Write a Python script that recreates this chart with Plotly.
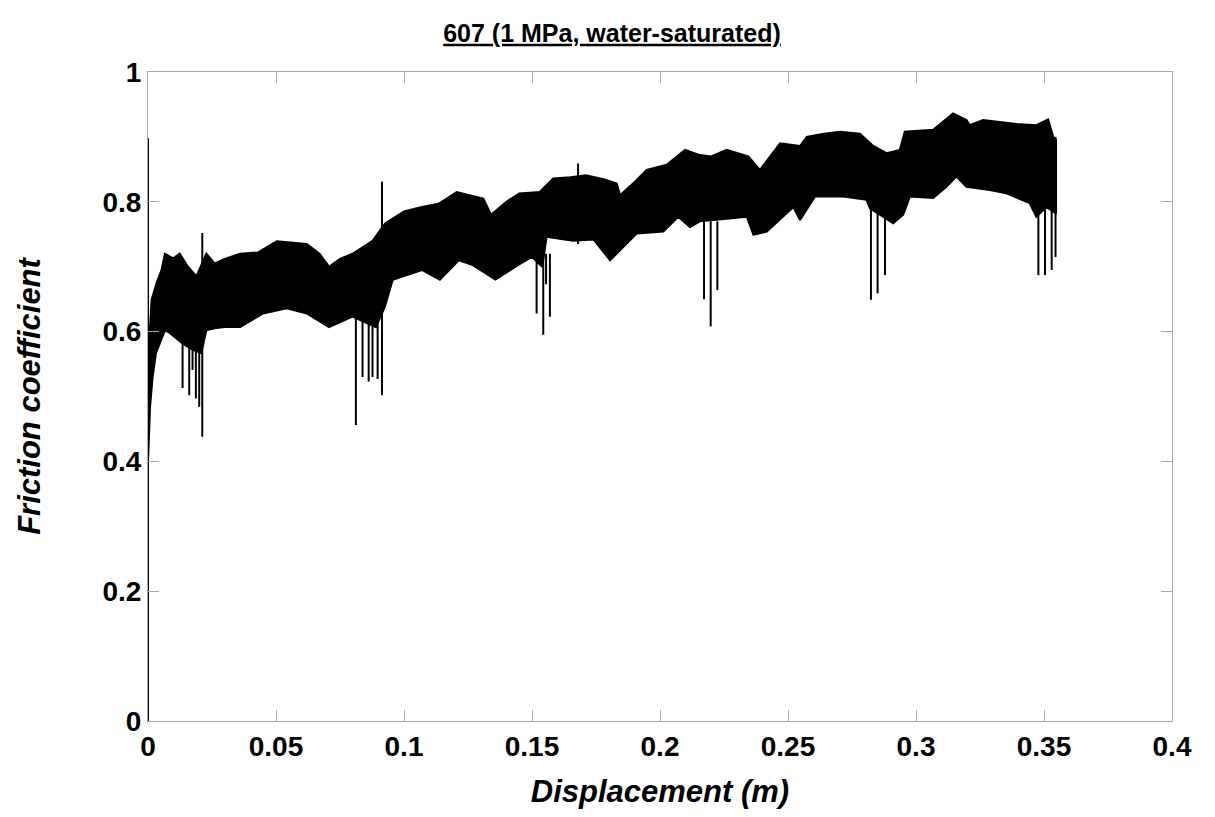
import plotly.graph_objects as go

# upper edge of the friction band (displacement m, friction coefficient)
upper_x = [0.0, 0.0008, 0.0014, 0.0034, 0.0053, 0.0066, 0.0098, 0.0124, 0.0156, 0.0189,
           0.0228, 0.026, 0.030, 0.036, 0.043, 0.0503, 0.056, 0.062, 0.067, 0.0707,
           0.075, 0.0799, 0.0877, 0.0927, 0.100, 0.107, 0.1135, 0.1206, 0.131, 0.134,
           0.140, 0.145, 0.153, 0.1583, 0.165, 0.171, 0.178, 0.1831, 0.1844, 0.190,
           0.1948, 0.2026, 0.2098, 0.2156, 0.220, 0.226, 0.2345, 0.239, 0.2469, 0.2547,
           0.2573, 0.264, 0.2703, 0.2781, 0.2833, 0.2885, 0.2937, 0.2956, 0.3067, 0.3145,
           0.3197, 0.321, 0.3262, 0.3392, 0.347, 0.3516, 0.3536, 0.3547]
upper_y = [0.55, 0.62, 0.649, 0.675, 0.695, 0.72, 0.713, 0.72, 0.70, 0.685,
           0.72, 0.705, 0.712, 0.72, 0.722, 0.739, 0.737, 0.735, 0.72, 0.70,
           0.712, 0.72, 0.74, 0.767, 0.785, 0.792, 0.797, 0.815, 0.805, 0.78,
           0.80, 0.813, 0.815, 0.836, 0.838, 0.841, 0.835, 0.828, 0.81, 0.83,
           0.849, 0.857, 0.88, 0.872, 0.87, 0.88, 0.87, 0.849, 0.89, 0.886,
           0.90, 0.905, 0.908, 0.905, 0.886, 0.875, 0.88, 0.908, 0.911, 0.936,
           0.926, 0.918, 0.926, 0.92, 0.918, 0.927, 0.90, 0.895]

# lower edge of the band
lower_x = [0.0, 0.0008, 0.0018, 0.0031, 0.0047, 0.0066, 0.0085, 0.011, 0.0137, 0.0176,
           0.0208, 0.0228, 0.026, 0.030, 0.036, 0.045, 0.0542, 0.062, 0.0707, 0.0799,
           0.089, 0.0925, 0.0956, 0.107, 0.114, 0.1214, 0.1266, 0.1357, 0.1448, 0.150,
           0.154, 0.1557, 0.166, 0.174, 0.1805, 0.1909, 0.2013, 0.2071, 0.2117, 0.2156,
           0.226, 0.2339, 0.2365, 0.2417, 0.2521, 0.2547, 0.2605, 0.2716, 0.2807, 0.282,
           0.2911, 0.295, 0.2976, 0.3067, 0.3119, 0.3158, 0.3197, 0.3288, 0.3353, 0.3444,
           0.347, 0.3509, 0.3547]
lower_y = [0.40, 0.484, 0.53, 0.567, 0.582, 0.602, 0.598, 0.59, 0.581, 0.572,
           0.567, 0.602, 0.605, 0.607, 0.607, 0.628, 0.636, 0.628, 0.607, 0.623,
           0.607, 0.638, 0.68, 0.695, 0.68, 0.71, 0.703, 0.68, 0.703, 0.715,
           0.70, 0.746, 0.74, 0.742, 0.71, 0.751, 0.754, 0.777, 0.761, 0.77,
           0.774, 0.777, 0.749, 0.754, 0.792, 0.772, 0.808, 0.808, 0.803, 0.79,
           0.767, 0.78, 0.808, 0.806, 0.823, 0.839, 0.823, 0.818, 0.813, 0.798,
           0.777, 0.792, 0.782]

# isolated spikes: position, bottom and top of each
spike_x = [0.0, 0.0135, 0.0161, 0.0174, 0.0187, 0.020, 0.0212, 0.0812, 0.0838, 0.0862,
           0.0877, 0.0897, 0.0914, 0.1518, 0.1544, 0.1555, 0.157, 0.168, 0.2172, 0.2198,
           0.2224, 0.2824, 0.285, 0.2879, 0.3478, 0.3504, 0.353, 0.3545]
spike_lo = [0.0, 0.513, 0.502, 0.541, 0.497, 0.484, 0.438, 0.456, 0.53, 0.523,
            0.53, 0.527, 0.502, 0.628, 0.595, 0.673, 0.623, 0.735, 0.65, 0.608,
            0.664, 0.649, 0.659, 0.687, 0.687, 0.687, 0.695, 0.715]
spike_hi = [0.898, 0.59, 0.58, 0.58, 0.58, 0.58, 0.752, 0.63, 0.63, 0.62,
            0.62, 0.62, 0.831, 0.72, 0.72, 0.72, 0.72, 0.859, 0.77, 0.77,
            0.77, 0.80, 0.80, 0.78, 0.79, 0.79, 0.79, 0.90]

x_ticks = [0, 0.05, 0.1, 0.15, 0.2, 0.25, 0.3, 0.35, 0.4]
y_ticks = [0, 0.2, 0.4, 0.6, 0.8, 1]

fig = go.Figure()

band_x = upper_x + lower_x[::-1]
band_y = upper_y + lower_y[::-1]
fig.add_trace(go.Scatter(x=band_x, y=band_y, fill='toself', fillcolor='black',
                         mode='lines', line=dict(color='black', width=2),
                         hoverinfo='skip', showlegend=False))

sx, sy = [], []
for x, lo, hi in zip(spike_x, spike_lo, spike_hi):
    sx += [x, x, None]
    sy += [lo, hi, None]
fig.add_trace(go.Scatter(x=sx, y=sy, mode='lines', line=dict(color='black', width=2),
                         showlegend=False))

# the page adds an 8px body margin, so the figure is 8px smaller than the window
axis_font = dict(family='Liberation Sans, Arial', size=28, color='black', weight='bold')
title_font = dict(family='Liberation Sans, Arial', size=31, color='black', weight='bold')
fig.update_layout(
    width=1207, height=809,
    margin=dict(l=140, r=43, t=64, b=96),
    plot_bgcolor='white', paper_bgcolor='white',
    title=dict(text='607 (1 MPa, water-saturated)', x=604 / 1207, xanchor='center',
               y=1 - 25 / 809, yanchor='middle', xref='container', yref='container',
               font=dict(family='Liberation Sans, Arial', size=25, color='black',
                         weight='bold', lineposition='under')),
    xaxis=dict(range=[0, 0.4], tickvals=x_ticks, ticktext=[f'{v:g}' for v in x_ticks],
               ticks='inside', ticklen=11, tickcolor='#a8a8a8', showline=True,
               linecolor='#a8a8a8', mirror='ticks', showgrid=False, zeroline=False,
               tickfont=axis_font,
               title=dict(text='<i>Displacement (m)</i>', standoff=19, font=title_font)),
    yaxis=dict(range=[0, 1], tickvals=y_ticks, ticktext=[f'{v:g}' for v in y_ticks],
               ticks='inside', ticklen=11, tickcolor='#a8a8a8', showline=True,
               linecolor='#a8a8a8', mirror='ticks', showgrid=False, zeroline=False,
               tickfont=axis_font,
               title=dict(text='<i>Friction coefficient</i>', standoff=52, font=title_font)),
)

fig.write_html("out.html")
